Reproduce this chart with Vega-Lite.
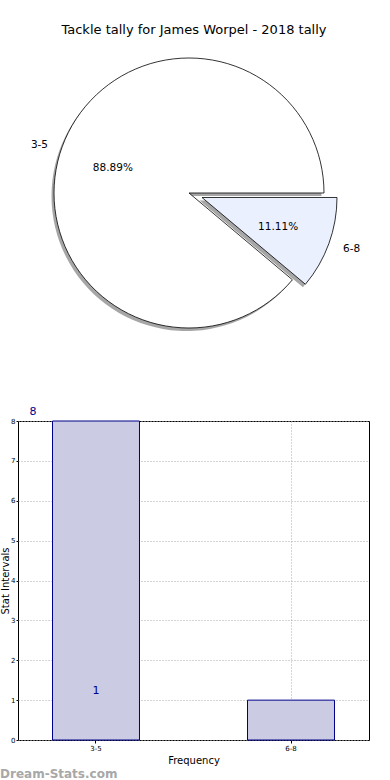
{
  "$schema": "https://vega.github.io/schema/vega-lite/v6.json",
  "padding": {"left": 0, "top": 24, "right": 0, "bottom": 0},
  "background": "white",
  "config": {"font": "DejaVu Sans", "view": {"stroke": null}},
  "title": {"text": "Dream-Stats.com", "orient": "bottom", "anchor": "start", "color": "#a8a8a8", "fontSize": 12, "fontWeight": "bold", "offset": 3},
  "data": {"values": [
    {"label": "3-5", "count": 8, "pct": "88.89%"},
    {"label": "6-8", "count": 1, "pct": "11.11%"}
  ]},
  "spacing": 69,
  "vconcat": [
    {
      "title": {"text": "Tackle tally for James Worpel - 2018 tally", "fontSize": 13, "fontWeight": "normal", "color": "black", "offset": 16, "dx": 5},
      "width": 342,
      "height": 280,
      "encoding": {
        "theta": {"field": "count", "type": "quantitative", "stack": true, "scale": {"range": [2.2689, 8.5521]}},
        "order": {"field": "count", "type": "quantitative", "sort": "descending"}
      },
      "layer": [
        {
          "mark": {"type": "arc", "outerRadius": 135, "fill": "#4d4d4d", "xOffset": -2.5, "yOffset": 3},
          "encoding": {"opacity": {"condition": {"test": "datum.label === '3-5'", "value": 0.5}, "value": 0}}
        },
        {
          "mark": {"type": "arc", "outerRadius": 135, "fill": "white", "stroke": "black", "strokeWidth": 0.8},
          "encoding": {"opacity": {"condition": {"test": "datum.label === '3-5'", "value": 1}, "value": 0}}
        },
        {
          "mark": {"type": "arc", "outerRadius": 135, "fill": "#4d4d4d", "xOffset": 10.5, "yOffset": 7.5},
          "encoding": {"opacity": {"condition": {"test": "datum.label === '6-8'", "value": 0.5}, "value": 0}}
        },
        {
          "mark": {"type": "arc", "outerRadius": 135, "fill": "#ebf0ff", "stroke": "black", "strokeWidth": 0.8, "xOffset": 13, "yOffset": 4.5},
          "encoding": {"opacity": {"condition": {"test": "datum.label === '6-8'", "value": 1}, "value": 0}}
        },
        {
          "mark": {"type": "text", "radius": 150, "align": "right", "baseline": "middle", "fontSize": 10.5, "color": "black", "yOffset": 3},
          "encoding": {"text": {"field": "label"}, "opacity": {"condition": {"test": "datum.label === '3-5'", "value": 1}, "value": 0}}
        },
        {
          "mark": {"type": "text", "radius": 81, "align": "center", "baseline": "middle", "fontSize": 10.5, "color": "black", "yOffset": 3},
          "encoding": {"text": {"field": "pct"}, "opacity": {"condition": {"test": "datum.label === '3-5'", "value": 1}, "value": 0}}
        },
        {
          "mark": {"type": "text", "radius": 150, "align": "left", "baseline": "middle", "fontSize": 10.5, "color": "black", "xOffset": 13, "yOffset": 4.5},
          "encoding": {"text": {"field": "label"}, "opacity": {"condition": {"test": "datum.label === '6-8'", "value": 1}, "value": 0}}
        },
        {
          "mark": {"type": "text", "radius": 81, "align": "center", "baseline": "middle", "fontSize": 10.5, "color": "black", "xOffset": 13, "yOffset": 6}, 
          "encoding": {"text": {"field": "pct"}, "opacity": {"condition": {"test": "datum.label === '6-8'", "value": 1}, "value": 0}}
        }
      ]
    },
    {
      "width": 351,
      "height": 319,
      "view": {"stroke": "black", "strokeWidth": 1},
      "encoding": {
        "x": {"field": "label", "type": "nominal", "sort": ["3-5", "6-8"],
          "scale": {"paddingInner": 0.554, "paddingOuter": 0.177},
          "axis": {"title": "Frequency", "titleFontSize": 10, "titleFontWeight": "normal", "titlePadding": 4, "labelAngle": 0, "labelFontSize": 7, "labelPadding": 1, "tickSize": 3, "tickColor": "black", "domain": false, "grid": true, "gridDash": [1, 2], "gridColor": "#aaaaaa", "labelColor": "black"}},
        "y": {"field": "count", "type": "quantitative",
          "scale": {"domain": [0, 8], "nice": false},
          "axis": {"title": "Stat Intervals", "titleFontSize": 10, "titleFontWeight": "normal", "titlePadding": 0, "values": [0, 1, 2, 3, 4, 5, 6, 7, 8], "format": "d", "labelFontSize": 7, "labelPadding": 1, "tickSize": 2, "tickColor": "black", "domain": false, "grid": true, "gridDash": [1, 2], "gridColor": "#aaaaaa", "labelColor": "black"}}
      },
      "layer": [
        {"mark": {"type": "bar", "fill": "#cbcbe4", "stroke": "#00008b", "strokeWidth": 1}},
        {
          "transform": [{"filter": "datum.label === '3-5'"}],
          "mark": {"type": "text", "dx": -63, "dy": -9, "fontSize": 11, "color": "#00008b", "baseline": "middle"},
          "encoding": {"text": {"field": "count"}}
        },
        {
          "transform": [{"filter": "datum.label === '6-8'"}],
          "mark": {"type": "text", "dx": -195, "dy": -9, "fontSize": 11, "color": "#00008b", "baseline": "middle"},
          "encoding": {"text": {"field": "count"}}
        }
      ]
    }
  ]
}
